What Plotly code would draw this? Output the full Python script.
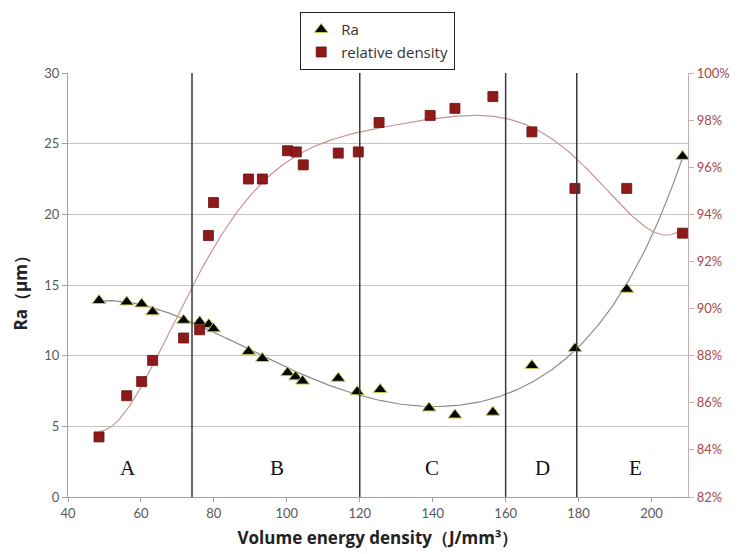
import numpy as np
import plotly.graph_objects as go

# ---- data ----
ra_x = [48.5, 56.1, 60.2, 63.2, 71.7, 76.1, 78.6, 79.9, 89.5, 93.3, 100.2, 102.4, 104.3,
        114.1, 119.3, 125.6, 139.0, 146.1, 156.5, 167.2, 179.0, 193.2, 208.5]
ra_y = [13.9, 13.8, 13.66, 13.1, 12.5, 12.4, 12.2, 11.9, 10.3, 9.8, 8.8, 8.5, 8.2,
        8.4, 7.45, 7.6, 6.3, 5.8, 6.0, 9.3, 10.5, 14.7, 24.1]

rd_x = [48.5, 56.1, 60.2, 63.2, 71.7, 76.1, 78.5, 79.9, 89.5, 93.3, 100.2, 102.6, 104.5,
        114.1, 119.6, 125.3, 139.3, 146.1, 156.5, 167.2, 179.0, 193.2, 208.5]
rd_y = [0.8455, 0.863, 0.869, 0.878, 0.8875, 0.891, 0.931, 0.945, 0.955, 0.955, 0.967, 0.9665, 0.961,
        0.966, 0.9665, 0.979, 0.982, 0.985, 0.990, 0.975, 0.951, 0.951, 0.932]

region_labels = ["A", "B", "C", "D", "E"]
region_label_x = [56.5, 97.4, 139.8, 170, 195.6]
region_label_y = 2.05
boundaries = [74, 120, 160, 179.5]

ra_ticks = [0, 5, 10, 15, 20, 25, 30]
rd_ticks = [0.82, 0.84, 0.86, 0.88, 0.90, 0.92, 0.94, 0.96, 0.98, 1.00]
x_ticks = [40, 60, 80, 100, 120, 140, 160, 180, 200]

# ---- polynomial trend lines (as in the spreadsheet chart) ----
ra_fit = np.poly1d(np.polyfit(ra_x, ra_y, 6))
rd_fit = np.poly1d(np.polyfit(rd_x, rd_y, 6))
fx_ra = np.linspace(min(ra_x), max(ra_x), 300)
fx_rd = np.linspace(min(rd_x), max(rd_x), 300)

fig = go.Figure()

fig.add_trace(go.Scatter(x=fx_ra, y=ra_fit(fx_ra), mode="lines",
                         line=dict(color="#8c8c8c", width=1.2), showlegend=False, hoverinfo="skip"))
fig.add_trace(go.Scatter(x=fx_rd, y=rd_fit(fx_rd), mode="lines", yaxis="y2",
                         line=dict(color="#c99494", width=1.2), showlegend=False, hoverinfo="skip"))

fig.add_trace(go.Scatter(x=ra_x, y=ra_y, mode="markers", name="Ra",
                         marker=dict(symbol="triangle-up", size=12, color="#050505",
                                     line=dict(color="#c8c860", width=1))))
fig.add_trace(go.Scatter(x=rd_x, y=rd_y, mode="markers", name="relative density", yaxis="y2",
                         marker=dict(symbol="square", size=10, color="#8e1a1a",
                                     line=dict(color="#6a1010", width=0.8))))

shapes = []
for b in boundaries:
    shapes.append(dict(type="line", xref="x", yref="paper", x0=b, x1=b, y0=0, y1=1,
                       line=dict(color="#3a3a3a", width=1.5)))

annotations = []
for lab, lx in zip(region_labels, region_label_x):
    annotations.append(dict(x=lx, y=region_label_y, xref="x", yref="y", text=lab, showarrow=False,
                            font=dict(family="Liberation Serif", size=21, color="#111111")))
# left axis title
annotations.append(dict(x=-0.077, y=0.49, xref="paper", yref="paper", text="Ra（μm）",
                        textangle=-90, showarrow=False, xanchor="center", yanchor="middle",
                        font=dict(family="Open Sans", size=17, color="#222222", weight="bold")))

fig.update_layout(
    width=740, height=554,
    margin=dict(l=60, r=60, t=65, b=65, autoexpand=False),
    plot_bgcolor="white", paper_bgcolor="white",
    font=dict(family="Lato", color="#555555", size=13),
    shapes=shapes, annotations=annotations,
    xaxis=dict(range=[40, 210], tickvals=x_ticks, showgrid=False, zeroline=False,
               showline=True, linecolor="#a0a0a0", linewidth=1.2, automargin=False,
               ticks="outside", ticklen=4, tickcolor="#a0a0a0",
               tickfont=dict(size=13, color="#595959"),
               title=dict(text="Volume energy density（J/mm³）", standoff=12,
                          font=dict(family="Open Sans", size=17, color="#222222", weight="bold"))),
    yaxis=dict(range=[0, 30], tickvals=ra_ticks, showgrid=True, gridcolor="#c4c4c4", gridwidth=1,
               zeroline=False, showline=True, linecolor="#a0a0a0", linewidth=1.2, automargin=False,
               ticks="outside", ticklen=5, tickcolor="#a0a0a0",
               tickfont=dict(size=13, color="#595959")),
    yaxis2=dict(range=[0.82, 1.0], tickvals=rd_ticks, tickformat=".0%", overlaying="y", side="right",
                showgrid=False, zeroline=False, showline=True, linecolor="#c8b0b0", linewidth=1.2,
                automargin=False, ticks="outside", ticklen=5, tickcolor="#c8b0b0",
                tickfont=dict(size=13, color="#a84848")),
    legend=dict(xref="container", yref="container", x=292 / 740, y=1 - 4 / 554,
                xanchor="left", yanchor="top", bgcolor="white",
                bordercolor="#222222", borderwidth=1.2,
                font=dict(family="Open Sans", size=15, color="#333333"),
                itemwidth=30, tracegroupgap=0),
    showlegend=True,
)

fig.write_html("out.html")
